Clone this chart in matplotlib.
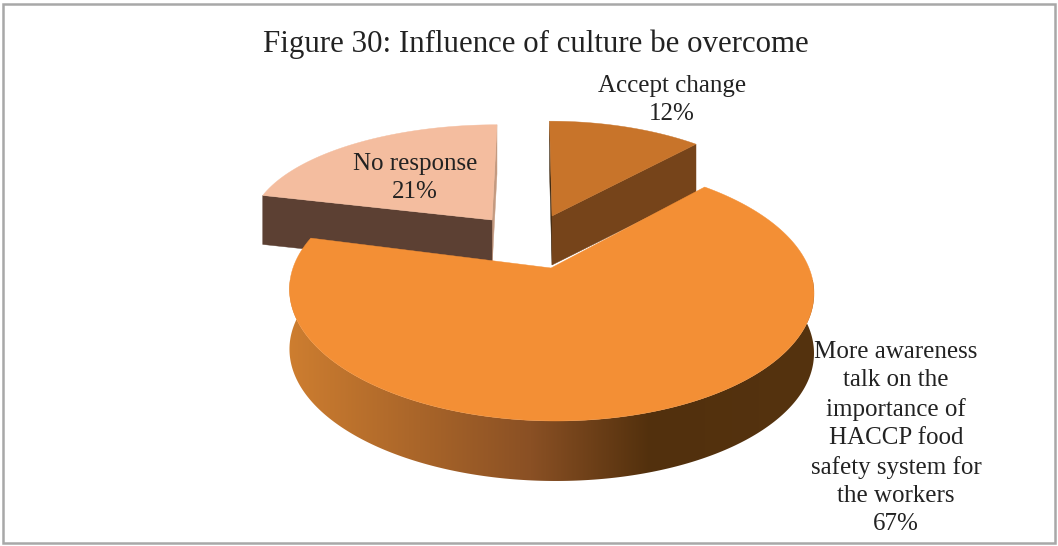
import numpy as np
import matplotlib
matplotlib.use("Agg")
import matplotlib.pyplot as plt
from matplotlib.patches import Polygon, Rectangle

# Data

title = "Figure 30: Influence of culture be overcome"
labels = ["Accept change\n12%",
          "More awareness\ntalk on the\nimportance of\nHACCP food\nsafety system for\nthe workers\n67%",
          "No response\n21%"]
shares = [12, 67, 21]

# Styles

top_colors = ["#C8742A", "#F38F35", "#F4BD9F"]
wall_colors = ["#76441A", None, "#5C4033"]
sliver_colors = ["#3F2A12", None, "#C49A80"]
label_pos = [(672, 100), (896, 438), (415, 178)]

# Every exploded slice has its own apex and perspective in the picture
apex = [(552, 216), (551, 268), (492, 220)]
rx = [238, 258, 241]
ry = [110, 125.6, 100]
persp = [0.16, 0.179, 0.05]
lean = [-2.9, -4, 5.25]
wall_h = [49, 60, 49]

plt.rcParams["font.family"] = ["Liberation Serif", "DejaVu Serif"]

fig = plt.figure(figsize=(10.58, 5.46), dpi=100)
ax = fig.add_axes((0, 0, 1, 1))
ax.axis("off")

ax.add_patch(Rectangle((3, 4), 1052, 539, fc="white", ec="#A8A8A8", lw=1.8))


def project(i, a, b):
    d = 1 + persp[i] * b
    return apex[i][0] + (rx[i] * a + lean[i] * b) / d, apex[i][1] - ry[i] * b / d


# Slice angles, clockwise from the top

frac = np.array(shares) / sum(shares)
starts = 90 - 360 * np.concatenate(([0], np.cumsum(frac)[:-1]))
ends = starts - 360 * frac


def rim(i, n=300):
    t = np.radians(np.linspace(starts[i], ends[i], n))
    return project(i, np.cos(t), np.sin(t))


def radial_wall(i, ang, color, z):
    t = np.radians(ang)
    x, y = project(i, np.array([0, np.cos(t)]), np.array([0, np.sin(t)]))
    ax.fill(np.r_[x, x[::-1]], np.r_[y, y[::-1] + wall_h[i]], fc=color, ec=color, lw=0.3, zorder=z)


def top_face(i, z):
    x, y = rim(i)
    ax.fill(np.r_[apex[i][0], x], np.r_[apex[i][1], y],
            fc=top_colors[i], ec=top_colors[i], lw=0.3, zorder=z)


# Small slices first, the big one goes over them

radial_wall(2, ends[2], sliver_colors[2], 2)
radial_wall(2, starts[2], wall_colors[2], 2)
top_face(2, 3)

radial_wall(0, starts[0], sliver_colors[0], 2)
radial_wall(0, ends[0], wall_colors[0], 2)
top_face(0, 3)

# Wall of the big slice has a left to right shading

x, y = rim(1)
wall = Polygon(np.c_[np.r_[x, x[::-1]], np.r_[y, y[::-1] + wall_h[1]]], closed=True,
               transform=ax.transData, fc="none", ec="none")
ax.add_patch(wall)

xs = np.arange(280, 825)
stops = [287, 530, 650, 813]
shade = np.stack([np.interp(xs, stops, [0xCE, 0x8A, 0x52, 0x55]),
                  np.interp(xs, stops, [0x7E, 0x50, 0x30, 0x33]),
                  np.interp(xs, stops, [0x30, 0x24, 0x0D, 0x0F])], axis=-1) / 255
im = ax.imshow(shade[np.newaxis, :, :], extent=(280, 825, 500, 280), aspect="auto", zorder=3.5)
im.set_clip_path(wall)

top_face(1, 4)

ax.set_xlim(0, 1058)
ax.set_ylim(546, 0)

# Text

ax.text(536, 44, title, fontsize=22.2, color="#222222", ha="center", va="center", zorder=5)
for lab, (tx, ty) in zip(labels, label_pos):
    ax.text(tx, ty, lab, fontsize=18, color="#222222", ha="center", va="center",
            linespacing=1.365, zorder=5)

fig.savefig("out.png", dpi=100)
